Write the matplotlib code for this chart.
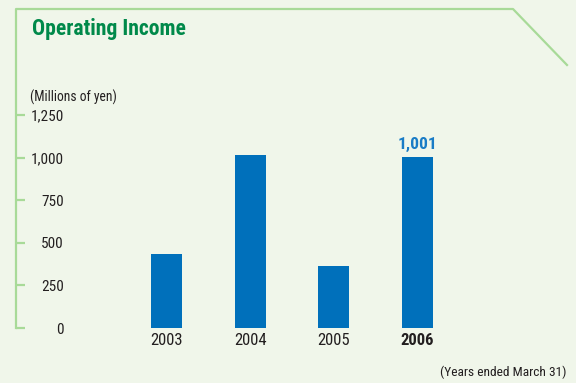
import matplotlib
matplotlib.use("Agg")
import matplotlib.pyplot as plt
from matplotlib.lines import Line2D

years = ["2003", "2004", "2005", "2006"]
income = [436, 1014, 366, 1001]
yticks = [0, 250, 500, 750, 1000, 1250]
ytick_labels = ["0", "250", "500", "750", "1,000", "1,250"]

bg = "#f0f6ea"
frame_green = "#a8da98"
title_green = "#00894a"
bar_blue = "#0070bb"
label_blue = "#1a7cc6"
text_dark = "#231f20"

plt.rcParams["font.family"] = ["Roboto Condensed", "Barlow Condensed", "Liberation Sans", "DejaVu Sans"]

W, H = 576, 383
fig = plt.figure(figsize=(W / 100, H / 100), dpi=100, facecolor=bg)

def fx(px):
    return px / W

def fy(py):
    return 1 - py / H

# axes area in pixels: spine x=16, zero line at y=328, 1250 at y=115
left, right, top, bottom = 16, 567, 115, 328
ax = fig.add_axes([fx(left), fy(bottom), fx(right) - fx(left), fy(top) - fy(bottom)])
ax.set_facecolor("none")

x = list(range(len(years)))
ax.bar(x, income, width=0.37, color=bar_blue, zorder=3)
ax.set_ylim(0, 1250)
ax.set_xlim(-1.799, 4.787)

for s in ax.spines.values():
    s.set_visible(False)

ax.set_yticks(yticks)
ax.set_yticklabels(ytick_labels, fontsize=11, color=text_dark)
ax.tick_params(axis="y", direction="in", length=6.5, width=1.6, color=frame_green, pad=-34.5)
for lab in ax.get_yticklabels():
    lab.set_horizontalalignment("right")

ax.set_xticks(x)
ax.set_xticklabels(years, fontsize=12, color=text_dark)
ax.tick_params(axis="x", length=0, pad=3.5)
ax.get_xticklabels()[-1].set_fontweight("bold")

# value callout on the latest year
ax.annotate(f"{income[-1]:,}", (x[-1], income[-1]), xytext=(0, 4), textcoords="offset points",
            ha="center", va="bottom", fontsize=12.5, fontweight="bold", color=label_blue)

# green panel frame with cut corner
frame = Line2D([fx(16), fx(16), fx(513), fx(567)], [fy(328), fy(9), fy(9), fy(65)],
               transform=fig.transFigure, color=frame_green, lw=1.6)
fig.add_artist(frame)

fig.text(fx(32), fy(29), "Operating Income", fontsize=15.6, fontweight="bold",
         color=title_green, va="center", ha="left")
fig.text(fx(30), fy(97), "(Millions of yen)", fontsize=9.8, color=text_dark, va="center", ha="left")
fig.text(fx(567), fy(372), "(Years ended March 31)", fontsize=9.6, color=text_dark, va="center", ha="right")

fig.savefig("out.png", dpi=100, facecolor=bg)
